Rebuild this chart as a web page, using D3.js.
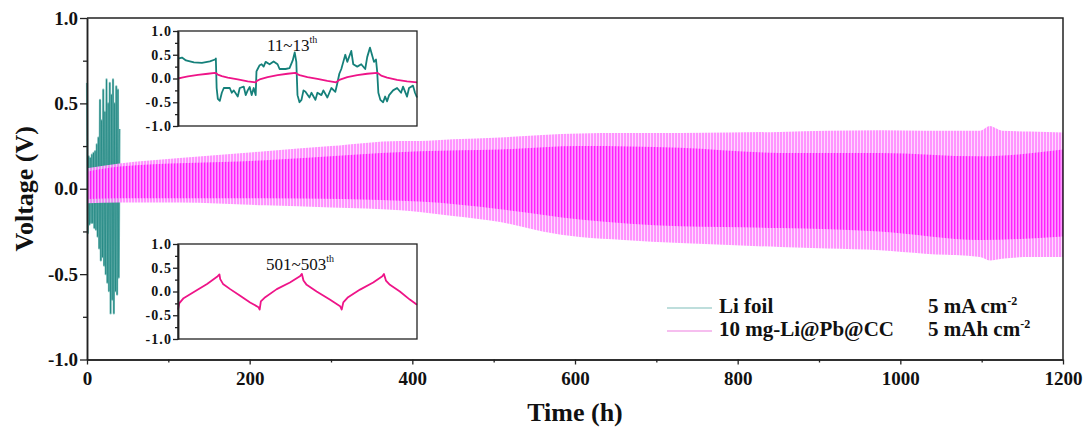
<!DOCTYPE html>
<html>
<head>
<meta charset="utf-8">
<script src="https://cdn.jsdelivr.net/npm/d3@7"></script>
<style>
  body { margin: 0; background: #fff; }
  svg { display: block; }
  text { font-family: "Liberation Serif", "Times New Roman", serif; fill: #111; }
</style>
</head>
<body>
<svg id="chart" width="1086" height="432"></svg>
<script>
// ---- Long-term cycling, Li foil: half-cycle peak voltages (1 h per half cycle) ----
const liFoilHours = [0,1,2,3,4,5,6,7,8,9,10,11,12,13,14,15,16,17,18,19,20,
                     21,22,23,24,25,26,27,28,29,30,31,32,33,34,35,36,37,38,39,40];
const liFoilVolts = [0.62,-0.26,0.19,-0.21,0.18,-0.20,0.20,-0.20,0.21,-0.23,0.22,
                     -0.24,0.26,-0.28,0.30,-0.35,0.52,-0.42,0.40,-0.40,0.58,
                     -0.45,0.45,-0.50,0.64,-0.55,0.50,-0.60,0.62,-0.73,0.55,
                     -0.65,0.64,-0.73,0.50,-0.60,0.60,-0.62,0.58,-0.52,0.35];

// ---- Long-term cycling, 10 mg-Li@Pb@CC: voltage envelope (outer extremes) ----
const pbHours      = [0, 40, 114, 219, 300, 385, 409, 450, 508, 560, 606, 660, 729, 790,
                      852, 910, 975, 1030, 1098, 1110, 1125, 1160, 1200];
const pbUpper      = [0.12, 0.148, 0.18, 0.22, 0.25, 0.28, 0.28, 0.29, 0.30, 0.315, 0.324, 0.326,
                      0.327, 0.33, 0.333, 0.34, 0.343, 0.34, 0.339, 0.367, 0.34, 0.335, 0.33];
const pbLower      = [-0.085, -0.08, -0.08, -0.097, -0.11, -0.126, -0.136, -0.16, -0.195, -0.25,
                      -0.283, -0.30, -0.318, -0.33, -0.341, -0.35, -0.36, -0.38, -0.40, -0.42,
                      -0.41, -0.40, -0.40];
// dense core of the trace (where most of the plateau voltage sits)
const pbCoreHours  = [0, 40, 219, 409, 508, 606, 729, 852, 975, 1098, 1200];
const pbCoreUpper  = [0.10, 0.13, 0.167, 0.22, 0.23, 0.25, 0.24, 0.21, 0.21, 0.19, 0.23];
const pbCoreLower  = [-0.06, -0.055, -0.056, -0.075, -0.12, -0.18, -0.22, -0.23, -0.25, -0.30, -0.28];

// ---- Inset: cycles 11~13 (hours within the window) ----
const early11Hours  = [0,0.1,0.25,0.5,0.75,0.93,0.96,1.0,1.1,1.25,1.5,1.75,1.95,1.98,2.05,2.25,
                       2.5,2.75,2.95,2.98,3.05,3.25,3.5,3.75,3.97,4.0,4.05,4.25,4.5,4.75,5.0,
                       5.04,5.1,5.25,5.5,5.75,6.0];
const early11PbCC   = [0.0,0.02,0.045,0.075,0.10,0.12,0.11,0.08,0.05,0.02,-0.02,-0.06,-0.08,-0.05,
                       -0.02,0.03,0.07,0.10,0.12,0.10,0.07,0.03,-0.01,-0.05,-0.08,-0.06,-0.03,
                       0.03,0.07,0.10,0.12,0.10,0.06,0.02,-0.03,-0.06,-0.08];
const early11LiHours = [0,0.1,0.2,0.4,0.6,0.8,0.93,0.95,0.97,1.0,1.05,1.1,1.15,1.3,1.35,1.4,1.5,
                        1.55,1.65,1.7,1.75,1.8,1.85,1.9,1.95,1.97,2.0,2.05,2.1,2.15,2.2,2.3,2.4,
                        2.5,2.55,2.7,2.8,2.88,2.93,2.97,3.0,3.05,3.1,3.15,3.2,3.3,3.35,3.45,3.5,
                        3.6,3.65,3.75,3.8,3.85,3.95,4.0,4.05,4.1,4.15,4.2,4.25,4.35,4.4,4.5,4.6,
                        4.7,4.75,4.82,4.87,4.92,4.97,5.0,5.03,5.08,5.15,5.2,5.25,5.3,5.4,5.5,
                        5.6,5.65,5.75,5.8,5.9,5.95,6.0];
const early11LiFoil  = [0.42,0.44,0.38,0.34,0.33,0.36,0.40,0.42,-0.2,-0.43,-0.47,-0.3,-0.2,-0.2,
                        -0.3,-0.25,-0.38,-0.2,-0.17,-0.35,-0.25,-0.18,-0.35,-0.2,-0.35,0.15,0.2,
                        0.28,0.3,0.25,0.35,0.3,0.36,0.3,0.2,0.2,0.22,0.38,0.55,0.35,-0.35,-0.5,
                        -0.45,-0.25,-0.28,-0.4,-0.3,-0.45,-0.3,-0.35,-0.25,-0.4,-0.3,-0.2,-0.28,
                        -0.1,0.1,0.2,0.35,0.5,0.35,0.58,0.3,0.25,0.3,0.2,0.45,0.65,0.5,0.35,
                        0.4,0.15,-0.3,-0.45,-0.5,-0.38,-0.48,-0.35,-0.25,-0.2,-0.3,-0.17,-0.38,
                        -0.2,-0.15,-0.3,-0.4];

// ---- Inset: cycles 501~503 ----
const late501Hours = [0,0.03,0.14,0.48,0.73,0.98,1.04,1.06,1.13,1.31,1.56,1.81,2.02,2.05,2.08,
                      2.19,2.48,2.81,3.06,3.11,3.15,3.23,3.48,3.81,4.07,4.11,4.15,4.27,4.57,
                      4.9,5.13,5.17,5.22,5.32,5.57,5.82,6.0];
const late501PbCC  = [-0.38,-0.25,-0.14,0.03,0.16,0.31,0.36,0.26,0.16,0.05,-0.09,-0.23,-0.33,
                      -0.38,-0.21,-0.12,0.05,0.19,0.32,0.37,0.23,0.14,0.0,-0.17,-0.31,-0.38,
                      -0.23,-0.12,0.04,0.19,0.32,0.37,0.23,0.14,0.0,-0.17,-0.28];

// ---- Axis ticks and legend ----
const voltTicks      = [-1.0, -0.5, 0.0, 0.5, 1.0];
const voltMinorTicks = [-0.75, -0.25, 0.25, 0.75];
const timeTicks      = [0, 200, 400, 600, 800, 1000, 1200];
const timeMinorTicks = [100, 300, 500, 700, 900, 1100];
const legendNames    = ["Li foil", "10 mg-Li@Pb@CC"];
const conditionText  = [["5 mA cm", "-2"], ["5 mAh cm", "-2"]];

const TEAL = "#15807a";
const PINK = "#ee1488";

const svg = d3.select("#chart");
const defs = svg.append("defs");

// striped fills for the dense cycling band
function stripes(id, base, bar, barWidth) {
  const p = defs.append("pattern").attr("id", id)
    .attr("patternUnits", "userSpaceOnUse").attr("width", 3).attr("height", 10);
  p.append("rect").attr("width", 3).attr("height", 10).attr("fill", base);
  p.append("rect").attr("x", 0).attr("width", barWidth).attr("height", 10).attr("fill", bar);
}
stripes("pinkLight", "#ffd6ff", "#ff88ff", 2);
stripes("pinkDark", "#ff88ff", "#ff00ff", 1.3);

const M = { left: 87, right: 1063, top: 18, bottom: 359.5 };
const x = d3.scaleLinear().domain([0, 1200]).range([M.left, M.right]);
const y = d3.scaleLinear().domain([-1, 1]).range([M.bottom, M.top]);
const fmt = d => d.toFixed(1);

// ---- Li foil trace: light body, then darker strokes ----
const liLine = d3.line().x((d, i) => x(liFoilHours[i])).y(d => y(d));
svg.append("path")
  .attr("d", liLine(liFoilVolts))
  .attr("fill", "none").attr("stroke", "#86c3bf")
  .attr("stroke-width", 2.2).attr("stroke-linejoin", "round");
svg.append("path")
  .attr("d", liLine(liFoilVolts))
  .attr("fill", "none").attr("stroke", TEAL)
  .attr("stroke-width", 0.7).attr("stroke-opacity", 0.9);

// ---- Li@Pb@CC band ----
const band = (hrs, up, lo) => d3.area()
  .x((d, i) => x(hrs[i])).y0((d, i) => y(lo[i])).y1(d => y(d))
  .curve(d3.curveMonotoneX)(up);
svg.append("path").attr("d", band(pbHours, pbUpper, pbLower))
  .attr("fill", "url(#pinkLight)").attr("fill-opacity", 0.9);
svg.append("path").attr("d", band(pbCoreHours, pbCoreUpper, pbCoreLower))
  .attr("fill", "url(#pinkDark)").attr("fill-opacity", 0.8);

// ---- main axes ----
const axisStyle = g => {
  g.selectAll(".domain").attr("stroke", "#222").attr("stroke-width", 1.5);
  g.selectAll(".tick line").attr("stroke", "#222").attr("stroke-width", 1.3);
};
const labelStyle = (sel, size) => sel.attr("font-size", size).attr("font-weight", "bold")
  .attr("font-family", "Liberation Serif").attr("fill", "#111");

svg.append("g").attr("transform", `translate(${M.left},0)`)
  .call(d3.axisLeft(y).tickValues(voltMinorTicks).tickSize(4).tickSizeOuter(0).tickFormat(""))
  .call(axisStyle);
svg.append("g").attr("transform", `translate(${M.left},0)`)
  .call(d3.axisLeft(y).tickValues(voltTicks).tickSize(7).tickSizeOuter(0).tickPadding(2).tickFormat(fmt))
  .call(axisStyle)
  .selectAll("text").call(labelStyle, 19);
svg.append("g").attr("transform", `translate(0,${M.bottom})`)
  .call(d3.axisBottom(x).tickValues(timeMinorTicks).tickSize(3).tickSizeOuter(0).tickFormat(""))
  .call(axisStyle);
svg.append("g").attr("transform", `translate(0,${M.bottom})`)
  .call(d3.axisBottom(x).tickValues(timeTicks).tickSize(5).tickSizeOuter(0).tickPadding(7).tickFormat(d3.format("d")))
  .call(axisStyle)
  .selectAll("text").call(labelStyle, 19);
// frame top / right
svg.append("path")
  .attr("d", `M${M.left},${M.top}H${M.right}V${M.bottom}`)
  .attr("fill", "none").attr("stroke", "#222").attr("stroke-width", 1.5);

// axis titles
svg.append("text").attr("transform", `translate(33,${(M.top + M.bottom) / 2}) rotate(-90)`)
  .attr("text-anchor", "middle").attr("font-size", 26).attr("font-weight", "bold")
  .text("Voltage (V)");
svg.append("text").attr("x", (M.left + M.right) / 2).attr("y", 421)
  .attr("text-anchor", "middle").attr("font-size", 26).attr("font-weight", "bold")
  .text("Time (h)");

// ---- insets ----
function inset(top, label, series) {
  const box = { left: 178, right: 417, top: top, bottom: top + 95 };
  const ix = d3.scaleLinear().domain([0, 6]).range([box.left, box.right]);
  const iy = d3.scaleLinear().domain([-1, 1]).range([box.bottom, box.top]);
  const g = svg.append("g");
  g.append("rect").attr("x", box.left).attr("y", box.top)
    .attr("width", box.right - box.left).attr("height", box.bottom - box.top)
    .attr("fill", "#fff");
  series.forEach(s => {
    g.append("path")
      .attr("d", d3.line().x((d, i) => ix(s.hours[i])).y(d => iy(d))(s.volts))
      .attr("fill", "none").attr("stroke", s.color).attr("stroke-width", 1.8)
      .attr("stroke-linejoin", "round");
  });
  g.append("g").attr("transform", `translate(${box.left},0)`)
    .call(d3.axisLeft(iy).tickValues(voltMinorTicks).tickSize(3).tickSizeOuter(0).tickFormat(""))
    .call(axisStyle);
  g.append("g").attr("transform", `translate(${box.left},0)`)
    .call(d3.axisLeft(iy).tickValues(voltTicks).tickSize(5).tickSizeOuter(0).tickPadding(1).tickFormat(fmt))
    .call(axisStyle)
    .selectAll("text").call(labelStyle, 14).attr("letter-spacing", 1.1);
  g.append("rect").attr("x", box.left).attr("y", box.top)
    .attr("width", box.right - box.left).attr("height", box.bottom - box.top)
    .attr("fill", "none").attr("stroke", "#222").attr("stroke-width", 1.3);
  const t = g.append("text").attr("x", label.x).attr("y", top + label.dy)
    .attr("font-size", 17);
  t.append("tspan").text(label.text);
  t.append("tspan").attr("font-size", 10).attr("dy", -8).text("th");
}
inset(31, { text: "11~13", x: 267, dy: 20 }, [
  { hours: early11LiHours, volts: early11LiFoil, color: TEAL },
  { hours: early11Hours, volts: early11PbCC, color: PINK }
]);
inset(244, { text: "501~503", x: 266, dy: 26 }, [
  { hours: late501Hours, volts: late501PbCC, color: PINK }
]);

// ---- legend ----
const legendColors = ["#7fbdb9", "#ee7ee0"];
legendNames.forEach((name, i) => {
  const yy = 308 + i * 23;
  svg.append("line").attr("x1", 667).attr("x2", 712).attr("y1", yy).attr("y2", yy)
    .attr("stroke", legendColors[i]).attr("stroke-width", 1.2);
  svg.append("text").attr("x", 719).attr("y", yy + 5)
    .attr("font-size", 21).attr("font-weight", "bold").text(name);
  const c = svg.append("text").attr("x", 928).attr("y", yy + 5)
    .attr("font-size", 21).attr("font-weight", "bold");
  c.append("tspan").text(conditionText[i][0]);
  c.append("tspan").attr("font-size", 12).attr("dy", -8).text(conditionText[i][1]);
});
</script>
</body>
</html>
